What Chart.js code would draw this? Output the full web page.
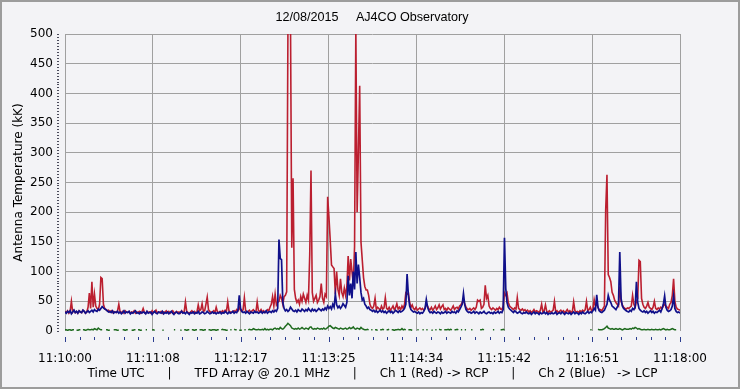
<!DOCTYPE html>
<html>
<head>
<meta charset="utf-8">
<script src="https://cdn.jsdelivr.net/npm/chart.js@4"></script>
<style>
  html, body { margin: 0; padding: 0; background: #f3f3f6; }
  #frame { position: relative; width: 740px; height: 389px; box-sizing: border-box; box-shadow: inset 0 0 0 2px #9c9c9c; }
  #frame canvas { position: absolute; left: 0; top: 0; }
</style>
</head>
<body>
<div id="frame"><canvas id="tfd" width="740" height="389"></canvas></div>
<script>
/* TFD array, 20.1 MHz, one sample per second from 11:10:00 UTC */
const _ = null;

const chartTitle = "12/08/2015     AJ4CO Observatory";
const footer = "Time UTC      |      TFD Array @ 20.1 MHz      |      Ch 1 (Red) -> RCP      |      Ch 2 (Blue)   -> LCP";
const timeLabels = ["11:10:00", "11:11:08", "11:12:17", "11:13:25", "11:14:34", "11:15:42", "11:16:51", "11:18:00"];

// Ch 1 (Red) -> RCP, kK
const ch1 = [
  33,31,34,30,33,50,32,35,31,33,30,34,32,31,35,33,30,32,40,64,
  38,83,40,62,42,38,36,45,90,88,45,38,36,34,35,32,34,31,33,32,
  31,34,45,32,31,33,30,34,32,31,33,30,32,31,34,30,32,31,33,30,
  32,38,31,30,33,31,32,30,34,31,32,35,30,32,31,33,30,32,31,34,
  31,33,30,32,34,31,30,33,31,32,30,34,31,32,49,33,31,30,32,34,
  31,33,30,32,44,34,36,46,33,34,45,57,36,33,31,32,34,31,40,32,
  31,33,32,34,31,35,33,49,34,32,31,33,34,32,36,34,40,35,33,36,
  56,34,32,33,35,31,34,36,33,32,49,34,33,36,32,34,31,33,36,34,
  40,45,58,42,62,44,48,50,60,55,45,58,60,66,510,560,520,140,257,70,
  55,48,52,45,58,50,62,55,48,60,52,128,270,65,50,55,60,48,52,58,
  80,55,48,62,58,226,192,153,111,108,105,62,100,70,60,88,65,58,72,60,
  75,126,85,121,100,80,142,510,200,302,413,150,120,90,75,69,69,60,45,40,
  38,42,55,36,40,38,35,42,37,39,56,38,36,40,35,38,42,36,39,46,
  37,40,36,42,38,45,64,62,64,48,40,44,38,36,40,35,37,39,36,38,
  35,38,45,42,37,36,40,35,38,42,36,39,44,37,41,44,36,38,35,39,
  37,35,38,42,36,39,40,37,42,44,48,51,46,40,37,36,38,35,37,39,
  36,40,52,50,52,38,40,45,77,55,60,42,38,36,39,37,35,38,36,40,
  37,36,42,64,60,64,48,42,40,38,36,39,37,56,38,36,35,37,34,36,
  33,35,32,34,31,33,36,32,34,33,31,35,45,32,34,44,33,31,34,32,
  33,35,50,32,34,31,33,35,32,34,31,33,36,32,34,31,33,49,34,32,
  33,31,34,32,35,33,36,50,34,36,40,34,36,53,42,45,40,35,36,34,
  38,42,204,263,95,90,83,65,60,52,48,45,42,75,50,44,40,38,37,39,
  38,40,42,60,45,40,50,55,119,117,55,45,40,38,42,48,40,38,36,40,
  50,38,36,39,37,40,38,42,45,42,40,38,45,48,60,88,50,40,37,36,
  35
];

// Ch 2 (Blue) -> LCP, kK
const ch2 = [
  32,30,33,31,34,29,32,35,31,33,30,34,32,31,35,33,30,32,34,31,
  33,35,32,36,34,33,37,35,38,41,39,37,36,34,32,33,31,34,30,32,
  31,33,30,32,29,31,34,30,32,31,33,29,31,30,32,34,30,31,29,32,
  30,32,31,29,33,30,31,32,28,31,33,30,29,32,31,30,33,29,31,30,
  32,29,31,33,30,28,31,32,30,29,31,33,30,31,29,32,30,28,31,30,
  32,29,31,30,33,29,30,32,31,29,30,33,31,29,30,32,30,31,29,31,
  30,32,29,31,30,33,31,29,32,30,31,33,30,32,31,35,60,38,33,31,
  32,30,33,31,29,32,31,30,33,31,32,30,31,33,30,32,31,34,30,32,
  33,31,34,32,35,33,38,154,122,120,48,38,34,36,33,35,40,37,34,33,
  35,32,36,34,33,37,35,33,36,34,38,35,33,37,34,36,33,35,38,36,
  34,37,35,39,36,42,38,41,37,45,40,62,44,39,42,38,41,46,43,40,
  48,93,60,80,55,100,70,133,80,112,90,65,52,55,45,42,38,40,36,35,
  33,35,32,34,31,33,35,32,34,31,33,30,32,34,31,33,30,32,35,33,
  31,34,32,33,35,38,45,96,60,42,36,34,32,33,31,30,32,29,31,30,
  33,38,53,40,34,31,32,30,33,31,30,32,31,29,32,30,31,33,30,32,
  31,30,33,31,32,30,34,32,36,40,45,63,44,36,33,31,32,30,31,33,
  30,32,31,29,32,30,31,33,30,29,31,32,30,31,29,32,30,31,33,30,
  32,31,36,157,72,48,40,37,35,33,31,34,32,30,31,33,30,29,31,30,
  32,30,29,31,28,30,32,29,31,30,28,31,29,30,32,29,31,28,30,29,
  31,29,30,32,28,30,31,29,32,30,28,31,30,29,31,28,30,32,29,31,
  30,28,31,29,32,30,29,31,33,30,32,31,34,38,35,61,40,34,32,31,
  33,35,40,45,60,52,48,42,40,38,36,40,45,133,55,42,38,36,34,33,
  32,35,33,38,36,40,83,48,38,35,33,32,34,31,33,30,32,34,31,33,
  30,32,31,33,35,32,38,45,59,40,35,33,34,36,42,59,38,33,31,32,
  30
];

// green trace near zero (gaps where nothing is drawn)
const ch3 = [
  2,2,1,2,2,1,2,2,_,2,1,2,2,_,2,2,1,2,3,2,
  2,3,2,4,3,2,5,3,2,2,_,_,2,2,1,2,_,_,2,2,
  2,1,2,_,_,2,2,1,2,2,_,_,2,1,2,2,_,2,2,1,
  2,_,_,2,2,_,_,_,2,2,1,_,_,_,2,_,2,1,_,_,
  _,_,2,_,_,2,2,_,_,_,1,2,_,2,2,1,2,2,_,2,
  2,1,2,2,_,2,2,2,1,2,2,_,2,2,1,2,2,2,1,2,
  2,_,2,3,2,2,1,2,_,2,2,_,3,2,2,_,2,1,2,_,
  2,2,_,2,3,2,2,4,3,2,2,3,2,2,3,2,4,2,3,2,
  3,3,2,4,5,3,4,3,6,4,3,5,8,10,13,11,9,5,4,3,
  4,3,5,3,4,6,4,3,5,4,3,6,7,4,3,4,3,5,4,3,
  4,3,5,3,4,6,8,9,7,5,4,6,5,4,3,5,4,3,4,5,
  3,4,6,4,5,7,4,3,5,4,3,6,4,3,2,2,3,2,_,2,
  2,_,2,2,1,_,2,2,3,2,_,2,2,3,_,2,2,1,2,2,
  3,2,2,4,2,3,2,_,2,2,2,1,_,2,_,2,2,_,_,2,
  2,_,2,2,_,_,2,1,_,2,2,_,3,2,2,_,2,2,2,3,
  2,3,2,_,2,2,3,2,_,2,2,_,2,2,_,2,_,2,2,_,
  _,2,_,_,2,2,3,2,_,2,_,_,2,_,2,2,_,_,2,_,
  2,2,3,2,_,_,2,_,_,_,_,_,_,_,_,_,_,_,_,_,
  _,_,_,_,_,_,_,_,_,_,_,_,_,_,_,_,_,_,_,_,
  _,_,_,_,_,_,_,_,_,_,_,_,_,_,_,_,_,_,_,_,
  _,_,_,2,_,_,_,2,_,_,2,2,_,_,2,_,3,2,2,2,
  3,4,6,8,5,4,3,4,3,3,4,3,3,4,3,2,3,4,3,3,
  3,4,3,5,4,6,5,3,4,3,2,2,3,2,2,3,2,2,3,2,
  2,3,2,2,3,2,3,4,3,2,3,2,2,3,4,3,2,2,_,_,
  _
];

const xMax = ch1.length - 1;           // seconds shown
const majorStep = xMax / (timeLabels.length - 1);
const minorPerMajor = 6;
const yMax = 500;

const pts = (arr) => arr.map((v, i) => ({ x: i, y: v }));
const axisFont = { family: "'DejaVu Sans', Verdana, sans-serif", size: 12 };

// title, plus small tick marks below the time axis and left of the temperature axis
const decorations = {
  id: "decorations",
  afterDraw(chart) {
    const { ctx, chartArea, scales: { x, y } } = chart;
    ctx.save();
    ctx.fillStyle = "#000";
    ctx.font = "12.6px 'Liberation Sans', Arial, sans-serif";
    ctx.textAlign = "center";
    ctx.textBaseline = "middle";
    ctx.fillText(chartTitle, 372, 18);

    ctx.fillStyle = "#2b3d8f";
    const n = (timeLabels.length - 1) * minorPerMajor;
    for (let k = 0; k <= n; k++) {
      const px = Math.round(x.getPixelForValue(k * xMax / n));
      ctx.fillRect(px, Math.round(chartArea.bottom) + 6, 1, k % minorPerMajor ? 3 : 5);
    }
    ctx.fillStyle = "#4a4a5a";
    for (let v = 0; v <= yMax; v += 5) {
      const py = Math.round(y.getPixelForValue(v));
      ctx.fillRect(Math.round(chartArea.left) - 8, py, 2, 1);
    }
    ctx.restore();
  },
};

new Chart(document.getElementById("tfd").getContext("2d"), {
  type: "line",
  data: {
    datasets: [
      { label: "Ch 2 (Blue)", data: pts(ch2), borderColor: "#10108a", borderWidth: 1.7 },
      { label: "Ch 1 (Red)", data: pts(ch1), borderColor: "#bb1f30", borderWidth: 1.6 },
      { label: "Ch 3", data: pts(ch3), borderColor: "#1e6a1e", borderWidth: 1.5 },
    ],
  },
  options: {
    responsive: false,
    animation: false,
    events: [],
    elements: { line: { tension: 0 }, point: { radius: 0 } },
    layout: { padding: { top: 34, right: 60 } },
    plugins: {
      legend: { display: false },
      tooltip: { enabled: false },
      title: { display: false },
    },
    scales: {
      x: {
        type: "linear", min: 0, max: xMax,
        afterBuildTicks: (s) => { s.ticks = timeLabels.map((t, k) => ({ value: k * majorStep })); },
        afterFit: (s) => { s.height = 58; },
        ticks: { callback: (v, i) => timeLabels[i], autoSkip: false, maxRotation: 0, padding: 21, color: "#000", font: axisFont },
        grid: { color: "#a0a0a0", drawTicks: false },
        border: { display: false },
        title: { display: true, text: footer, color: "#000", font: axisFont, padding: { top: 0, bottom: 8 } },
      },
      y: {
        min: 0, max: yMax,
        afterFit: (s) => { s.width = 65; },
        ticks: { stepSize: 50, padding: 12, color: "#000", font: axisFont },
        grid: { color: (c) => (c.tick && c.tick.value === 0 ? "rgba(0,0,0,0)" : "#a0a0a0"), drawTicks: false },
        border: { display: false },
        title: { display: true, text: "Antenna Temperature (kK)", color: "#000", font: axisFont, padding: { top: 12 } },
      },
    },
  },
  plugins: [decorations],
});
</script>
</body>
</html>
